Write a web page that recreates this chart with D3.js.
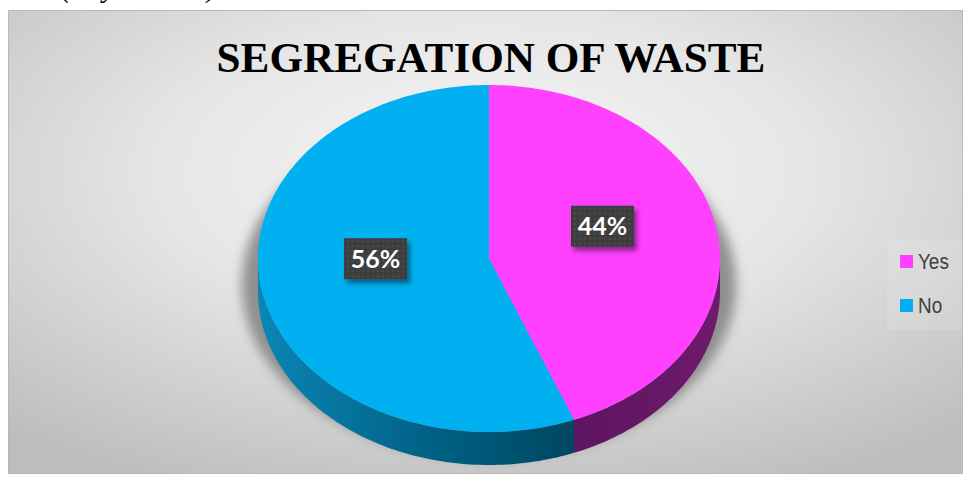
<!DOCTYPE html>
<html>
<head>
<meta charset="utf-8">
<script src="https://cdn.jsdelivr.net/npm/d3@7"></script>
<style>
  body { margin: 0; background: white; overflow: hidden; }
</style>
</head>
<body>
<script>
(function() {

  // chart data
  let categories = ["Yes", "No"];
  let values = [44, 56];
  let labels = ["44%", "56%"];
  let colors = ["#FF40FF", "#00B0F0"];
  let title = "SEGREGATION OF WASTE";

  let svgContainer = "";

  // pie geometry
  let cx = 489, cy = 258.5, rx = 231, ry = 173.5, depth = 33;

  window.onload = function() {
    svgContainer = d3.select('body').append('svg')
      .attr('width', 965)
      .attr('height', 477);

    makeDefs();

    // caption above the chart (cut off by the page edge, as in the source)
    svgContainer.append('text')
      .attr('x', 61)
      .attr('y', -3)
      .attr('font-family', 'Liberation Serif, serif')
      .attr('font-style', 'italic')
      .attr('font-size', 29)
      .text('(Key Results)');

    // chart area background
    svgContainer.append('rect')
      .attr('x', 8.5)
      .attr('y', 10.5)
      .attr('width', 954)
      .attr('height', 463)
      .style('fill', 'url(#bgGrad)')
      .attr('stroke', '#b8b8b8');

    svgContainer.append('text')
      .attr('x', 491)
      .attr('y', 72)
      .attr('text-anchor', 'middle')
      .attr('font-family', 'Liberation Serif, Times New Roman, serif')
      .attr('font-weight', 'bold')
      .attr('font-size', 43.2)
      .style('fill', 'black')
      .text(title);

    drawPie();
    makeLegend();
  }

  function makeDefs() {
    let defs = svgContainer.append('defs');

    let bg = defs.append('radialGradient')
      .attr('id', 'bgGrad')
      .attr('cx', '50%').attr('cy', '35%')
      .attr('r', '75%');
    bg.append('stop').attr('offset', '0%').attr('stop-color', '#f6f6f6');
    bg.append('stop').attr('offset', '45%').attr('stop-color', '#e6e6e6');
    bg.append('stop').attr('offset', '100%').attr('stop-color', '#bdbdbd');

    defs.append('filter')
      .attr('id', 'shadowBlur')
      .attr('x', '-20%').attr('y', '-20%')
      .attr('width', '140%').attr('height', '140%')
      .append('feGaussianBlur')
      .attr('stdDeviation', 6);

    let ds = defs.append('filter')
      .attr('id', 'boxShadow')
      .attr('x', '-30%').attr('y', '-30%')
      .attr('width', '170%').attr('height', '170%');
    ds.append('feDropShadow')
      .attr('dx', 3).attr('dy', 4)
      .attr('stdDeviation', 2.5)
      .attr('flood-color', '#000')
      .attr('flood-opacity', 0.45);

    // dotted texture for data labels
    let pat = defs.append('pattern')
      .attr('id', 'dots')
      .attr('width', 5).attr('height', 5)
      .attr('patternUnits', 'userSpaceOnUse');
    pat.append('rect').attr('width', 5).attr('height', 5).style('fill', '#3d3d3d');
    pat.append('circle').attr('cx', 2.5).attr('cy', 2.5).attr('r', 1)
      .style('fill', '#555');

    // side wall gradients
    let blue = defs.append('linearGradient')
      .attr('id', 'sideNo')
      .attr('gradientUnits', 'userSpaceOnUse')
      .attr('x1', cx - rx).attr('x2', cx + 100)
      .attr('y1', 0).attr('y2', 0);
    blue.append('stop').attr('offset', '0%').attr('stop-color', '#0a86b6');
    blue.append('stop').attr('offset', '55%').attr('stop-color', '#005f82');
    blue.append('stop').attr('offset', '100%').attr('stop-color', '#00445e');

    let pink = defs.append('linearGradient')
      .attr('id', 'sideYes')
      .attr('gradientUnits', 'userSpaceOnUse')
      .attr('x1', cx + 90).attr('x2', cx + rx)
      .attr('y1', 0).attr('y2', 0);
    pink.append('stop').attr('offset', '0%').attr('stop-color', '#5e1560');
    pink.append('stop').attr('offset', '100%').attr('stop-color', '#6e1a6e');
  }

  // point on the top ellipse, angle clockwise from 12 o'clock
  function pt(a, dy) {
    return [cx + rx * Math.sin(a), cy - ry * Math.cos(a) + (dy || 0)];
  }

  function arcPoints(a0, a1, dy) {
    let n = Math.max(2, Math.ceil((a1 - a0) / 0.02));
    return d3.range(n + 1).map((i) => pt(a0 + (a1 - a0) * i / n, dy));
  }

  function drawPie() {
    let pie = d3.pie().sort(null).value((d) => d.value);
    let arcs = pie(categories.map((c, i) => ({ name: c, value: values[i], i: i })));
    let line = d3.line();

    // soft shadow under the pie
    let shadow = arcPoints(0, 2 * Math.PI, 0).map((p) => [cx + (p[0] - cx) * 1.07, p[1] + 26]);
    svgContainer.append('path')
      .attr('d', line(shadow) + 'Z')
      .style('fill', '#7a7a7a')
      .style('opacity', 0.8)
      .attr('filter', 'url(#shadowBlur)');

    // front side walls
    svgContainer.selectAll('.side')
      .data(arcs)
      .enter()
      .append('path')
        .attr('class', 'side')
        .attr('d', function(d) {
          let s0 = Math.max(d.startAngle, Math.PI / 2);
          let s1 = Math.min(d.endAngle, 3 * Math.PI / 2);
          if (s1 <= s0) return null;
          let top = arcPoints(s0, s1, 0);
          let bot = arcPoints(s0, s1, depth).reverse();
          return line(top.concat(bot)) + 'Z';
        })
        .style('fill', (d) => d.data.i == 0 ? 'url(#sideYes)' : 'url(#sideNo)');

    // top faces
    svgContainer.selectAll('.slice')
      .data(arcs)
      .enter()
      .append('path')
        .attr('class', 'slice')
        .attr('d', (d) => line([[cx, cy]].concat(arcPoints(d.startAngle, d.endAngle, 0))) + 'Z')
        .style('fill', (d) => colors[d.data.i]);

    // data labels
    let lab = svgContainer.selectAll('.lab')
      .data(arcs)
      .enter()
      .append('g')
        .attr('class', 'lab')
        .attr('transform', function(d) {
          let p = pt((d.startAngle + d.endAngle) / 2, 0);
          let x = cx + (p[0] - cx) * 0.5;
          let y = cy + (p[1] - cy) * 0.5 - 16;
          return 'translate(' + x + ',' + y + ')';
        });

    lab.append('rect')
      .attr('x', -31.5)
      .attr('y', -20.5)
      .attr('width', 63)
      .attr('height', 41)
      .style('fill', 'url(#dots)')
      .attr('filter', 'url(#boxShadow)');

    lab.append('text')
      .attr('x', 0)
      .attr('y', 9)
      .attr('text-anchor', 'middle')
      .attr('font-family', 'Lato, Open Sans, sans-serif')
      .attr('font-weight', 'bold')
      .attr('font-size', 25)
      .style('fill', 'white')
      .text((d, i) => labels[i]);
  }

  function makeLegend() {
    svgContainer.append('rect')
      .attr('x', 887)
      .attr('y', 239)
      .attr('width', 75)
      .attr('height', 91)
      .style('fill', 'white')
      .style('opacity', 0.12);

    let item = svgContainer.selectAll('.legend')
      .data(categories)
      .enter()
      .append('g')
        .attr('class', 'legend')
        .attr('transform', (d, i) => 'translate(900,' + (255 + i * 44) + ')');

    item.append('rect')
      .attr('width', 13)
      .attr('height', 13)
      .style('fill', (d, i) => colors[i]);

    item.append('text')
      .attr('transform', 'translate(18,14) scale(0.86,1)')
      .attr('font-family', 'Liberation Sans, Arial, sans-serif')
      .attr('font-size', 22)
      .style('fill', '#404040')
      .text((d) => d);
  }
})();
</script>
</body>
</html>
